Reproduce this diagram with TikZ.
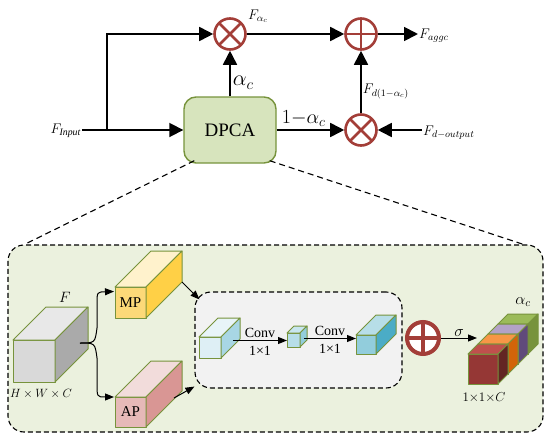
\RequirePackage{fix-cm}
\documentclass[tikz,border=0pt]{standalone}
\usepackage{fontspec}
\setmainfont{Liberation Serif}
\usepackage{tikz}
\usetikzlibrary{arrows.meta,positioning,calc}
\definecolor{opred}{RGB}{163,62,56}
\definecolor{boxgreen}{RGB}{119,147,60}
\definecolor{dpcafill}{RGB}{215,228,189}
\definecolor{panelfill}{RGB}{235,241,222}
\definecolor{convfill}{RGB}{242,242,242}
\definecolor{ffront}{RGB}{217,217,217}\definecolor{ftop}{RGB}{232,232,232}\definecolor{fside}{RGB}{170,170,170}
\definecolor{mpfront}{RGB}{252,217,120}\definecolor{mptop}{RGB}{255,242,204}\definecolor{mpside}{RGB}{255,208,70}
\definecolor{apfront}{RGB}{230,185,184}\definecolor{aptop}{RGB}{242,220,219}\definecolor{apside}{RGB}{217,150,148}
\definecolor{cafront}{RGB}{222,239,245}\definecolor{catop}{RGB}{232,244,248}\definecolor{caside}{RGB}{168,214,228}
\definecolor{cbfront}{RGB}{183,222,232}\definecolor{cbtop}{RGB}{200,230,238}\definecolor{cbside}{RGB}{146,205,220}
\definecolor{ccfront}{RGB}{146,205,220}\definecolor{cctop}{RGB}{183,222,232}\definecolor{ccside}{RGB}{75,172,198}
\definecolor{rfront}{RGB}{149,55,53}\definecolor{rtop}{RGB}{192,80,77}\definecolor{rside}{RGB}{99,37,35}
\definecolor{ofront}{RGB}{228,108,10}\definecolor{otop}{RGB}{247,150,70}\definecolor{oside}{RGB}{210,100,10}
\definecolor{pfront}{RGB}{96,74,123}\definecolor{ptop}{RGB}{179,162,199}\definecolor{pside}{RGB}{96,74,123}
\definecolor{gfront}{RGB}{119,147,60}\definecolor{gtop}{RGB}{155,187,89}\definecolor{gside}{RGB}{119,147,60}
\newcommand{\cubefaces}[4]{%
  \filldraw[cubeedge, fill=#3] (#1.north west) -- ++(#2,-#2) -- ($(#1.north east)+(#2,-#2)$) -- (#1.north east) -- cycle;
  \filldraw[cubeedge, fill=#4] (#1.north east) -- ++(#2,-#2) -- ($(#1.south east)+(#2,-#2)$) -- (#1.south east) -- cycle;}

\begin{document}
\begin{tikzpicture}[
  x=1pt, y=-1pt,
  >={Triangle[length=14pt,width=14pt]},
  flow/.style={->, line width=1.8pt},
  sub flow/.style={-{Triangle[length=9pt,width=7pt]}, line width=1pt},
  opcirc/.style={circle, draw=opred, fill=white, minimum size=31pt, inner sep=0pt},
  mulop/.style={opcirc, line width=#1, path picture={\draw[opred, line width=#1]
      (path picture bounding box.north west) -- (path picture bounding box.south east)
      (path picture bounding box.north east) -- (path picture bounding box.south west);}},
  mulop/.default=2.6pt,
  addop/.style={opcirc, line width=#1, path picture={\draw[opred, line width=#1]
      (path picture bounding box.north) -- (path picture bounding box.south)
      (path picture bounding box.west) -- (path picture bounding box.east);}},
  addop/.default=2.6pt,
  dpca/.style={draw=boxgreen, fill=dpcafill, line width=1.4pt, rounded corners=12pt,
      minimum width=92pt, minimum height=66pt, font=\fontsize{19}{21}\selectfont},
  panel/.style={draw, dashed, dash pattern=on 5pt off 3pt, line width=1.1pt, rounded corners=16pt},
  zoomline/.style={dashed, dash pattern=on 6pt off 4pt, line width=1.1pt},
  cubeedge/.style={draw=boxgreen, line width=1pt, line join=round},
  cubefront/.style={cubeedge, inner sep=0pt, outer sep=0pt, font=\fontsize{15}{17}\selectfont},
  bigmath/.style={font=\fontsize{22}{24}\selectfont, inner sep=2pt},
  mathlbl/.style={font=\fontsize{14}{16}\selectfont, inner sep=1pt},
  convlbl/.style={font=\fontsize{14}{16}\selectfont, inner sep=1pt}
]
\useasboundingbox (0,0) rectangle (550,439);

\node[panel, fill=panelfill, minimum width=535pt, minimum height=187pt] (panel) at (275.5,338.5) {};
\node[panel, fill=convfill, minimum width=207pt, minimum height=96pt] (conv box) at (298.5,340) {};

\node[dpca] (dpca) at (230,130) {DPCA};
\node[mulop] (mulA) at (230,34) {};
\node[addop] (addA) at (361,34) {};
\node[mulop] (mulB) at (361,130) {};
\node[mathlbl, anchor=east] (fin) at (82,131) {$F_{\mathit{Input}}$};
\coordinate (split) at (107,130);
\node[mathlbl, anchor=west] (fagg) at (418,36) {$F_{aggc}$};
\node[mathlbl, anchor=west] (fdout) at (422,133) {$F_{d-output}$};
\node[mathlbl] (falpha) at (258,16) {$F_{\alpha_c}$};

\draw[flow] (fin.east |- split) -- (dpca.west);
\draw[flow] (split) |- (mulA.west);
\draw[flow] (mulA) -- (addA);
\draw[flow] (addA) -- (fagg.west |- addA);
\draw[flow] (dpca) -- node[right, bigmath, pos=.3] {$\alpha_c$} (mulA);
\draw[flow] (dpca) -- node[above=1pt, bigmath, pos=.4, font=\fontsize{20}{22}\selectfont] {$1{-}\alpha_c$} (mulB);
\draw[flow] (fdout.west |- mulB) -- (mulB);
\draw[flow] (mulB) -- node[right, mathlbl, pos=.35] {$F_{d(1-\alpha_c)}$} (addA);

\draw[zoomline] ($(dpca.south west)+(11,-3)$) -- ($(panel.north west)+(17,0)$);
\draw[zoomline] ($(dpca.south east)+(-7,-3)$) -- ($(panel.north east)+(-20,0)$);

\node[cubefront, fill=ffront, minimum width=42pt, minimum height=42pt] (feat) at (34,361) {};
\cubefaces{feat}{33}{ftop}{fside}
\node[cubefront, fill=mpfront, minimum width=31pt, minimum height=31pt] (mp) at (130.5,302.5) {MP};
\cubefaces{mp}{36}{mptop}{mpside}
\node[cubefront, fill=apfront, minimum width=31pt, minimum height=30pt] (ap) at (130.5,412) {AP};
\cubefaces{ap}{36}{aptop}{apside}
\node[mathlbl, font=\fontsize{15}{17}\selectfont] (flbl) at (65,297) {$F$};
\node[mathlbl, font=\fontsize{12}{14}\selectfont] (hwc) at (41,394) {$H\times W\times C$};

\coordinate (fsplit) at ($(feat.east)+(25,-18)$);
\draw[sub flow] (fsplit) .. controls (95,343) .. (97,328) -- (97,304) .. controls (97,292) .. ($(mp.west)+(-1,-11)$);
\draw[sub flow] (fsplit) .. controls (95,343) .. (97,358) -- (97,383) .. controls (97,397) .. ($(ap.west)+(-1,-15)$);
\draw[sub flow] ($(mp.south east)+(36,-36)$) -- ($(conv box.north west)+(5,8)$);
\draw[sub flow] ($(ap.east)+(28,-14)$) -- ($(conv box.south west)+(0,-2)$);

\node[cubefront, fill=cafront, minimum width=22pt, minimum height=21pt] (ca) at (210,347.5) {};
\cubefaces{ca}{19}{catop}{caside}
\node[cubefront, fill=cbfront, minimum width=13pt, minimum height=14pt] (cb) at (293.5,340) {};
\cubefaces{cb}{7}{cbtop}{cbside}
\node[cubefront, fill=ccfront, minimum width=20pt, minimum height=19pt] (cc) at (366,344.5) {};
\cubefaces{cc}{20}{cctop}{ccside}

\coordinate (caout) at ($(ca.east)+(12,-7)$);
\coordinate (cbout) at ($(cb.east)+(4,-1.5)$);
\draw[sub flow] (caout) -- node[above=1pt, convlbl] {Conv} node[below=4pt, convlbl] {1×1} (caout -| cb.west);
\draw[sub flow] (cbout) -- node[above=1pt, convlbl] {Conv} node[below=4pt, convlbl] {1×1} (cbout -| cc.west);

\node[cubefront, fill=gfront, minimum size=30pt] (sg) at (513,339) {};
\cubefaces{sg}{10}{gtop}{gside}
\node[cubefront, fill=pfront, minimum size=30pt] (sp) at (503,349) {};
\cubefaces{sp}{10}{ptop}{pside}
\node[cubefront, fill=ofront, minimum size=30pt] (so) at (493,359) {};
\cubefaces{so}{10}{otop}{oside}
\node[cubefront, fill=rfront, minimum size=30pt] (sr) at (483,369) {};
\cubefaces{sr}{10}{rtop}{rside}
\node[mathlbl, font=\fontsize{16}{18}\selectfont] (aout) at (523,302) {$\alpha_c$};
\node[mathlbl, font=\fontsize{13}{15}\selectfont] (ccount) at (484,398) {$1{\times}1{\times}C$};

\node[addop=4pt, minimum size=32pt] (addB) at (423,338) {};
\draw[sub flow] (addB) -- node[above, mathlbl, font=\fontsize{16}{18}\selectfont] {$\sigma$} ($(sr.north west)+(9,-16)$);
\end{tikzpicture}
\end{document}
